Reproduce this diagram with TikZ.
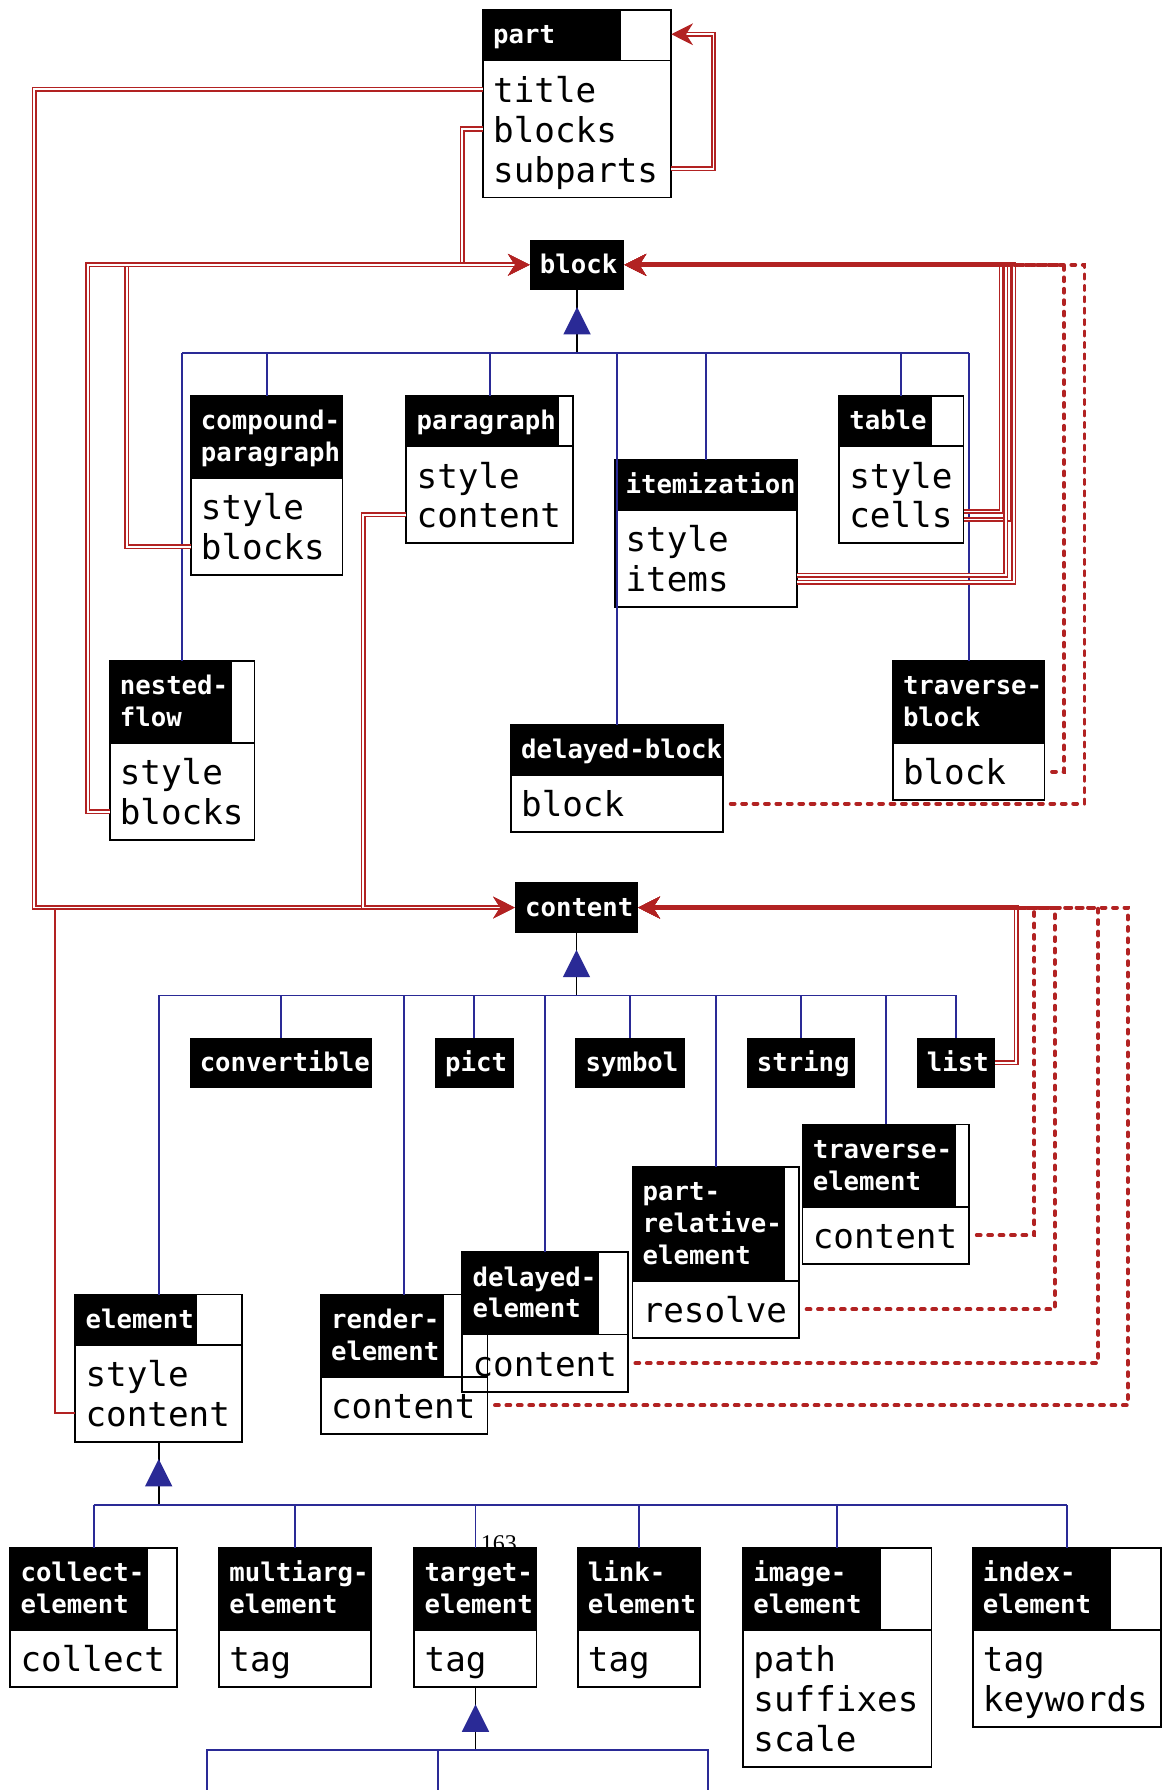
\documentclass[tikz,border=0pt]{standalone}
\usepackage{fontspec}
\usetikzlibrary{arrows.meta,calc}
\newfontfamily\monof{DejaVu Sans Mono}
\newfontfamily\pagenumfont{Liberation Serif}
\newcommand\hdrfont{\monof\bfseries\fontsize{22.5}{27}\selectfont}
\newcommand\bodyfont{\monof\fontsize{30}{35}\selectfont}
\definecolor{redc}{RGB}{178,34,34}
\definecolor{bluec}{RGB}{42,42,150}
\tikzset{
  frame/.style={draw=black, line width=1.6pt, inner sep=0pt, outer sep=0pt},
  frameline/.style={draw=black, line width=1.6pt},
  hdrtext/.style={anchor=base west, inner sep=0pt, outer sep=0pt, text=white, font=\hdrfont},
  fieldtext/.style={anchor=west, inner xsep=9pt, inner ysep=0pt, outer sep=0pt, text height=25.5pt, text depth=2.5pt, font=\bodyfont},
  blk/.style={fill=black, inner sep=0pt, outer sep=0pt},
  stem/.style={draw=black, line width=1.7pt},
  tree/.style={draw=bluec, line width=1.7pt},
  tipr/.style={-{Stealth[length=19pt,width=19pt,inset=6pt]}},
  ref/.style={draw=redc, double=white, line width=1.4pt, double distance=1.6pt, tipr},
  sref/.style={draw=redc, line width=1.8pt},
  dref/.style={draw=redc, line width=3.4pt, dash pattern=on 3.4pt off 6.6pt, dash phase=3.4pt, line cap=round, tipr},
}
% #1 name #2 x #3 y #4 w #5 black w #6 header lines #7 header list #8 body lines #9 body list
\newcommand\umlbox[9]{%
  \pgfmathsetmacro\hdrh{16+28*#6}%
  \pgfmathsetmacro\bodyh{15+35*#8}%
  \pgfmathsetmacro\toth{\hdrh+\bodyh}%
  \fill[black] (#2,#3) rectangle ++(#5,\hdrh);%
  \node[frame, minimum width=#4pt, minimum height=\toth pt, anchor=north west] (#1) at (#2,#3) {};%
  \draw[frameline] ($(#2,#3)+(0,\hdrh)$) -- ++(#4,0);%
  \begin{scope}
    \clip (#2,#3) rectangle ++({#5-1.5},\hdrh);
    \foreach \nm [count=\cnt] in {#7} {\node[hdrtext] (#1-h\cnt) at ($(#2,#3)+(9,{28*\cnt+1.5})$) {\nm};}
  \end{scope}
  \foreach \nm [count=\cnt] in {#9} {\node[fieldtext] (#1-\nm) at ($(#2,#3)+(0,{\hdrh+35*\cnt-10})$) {\nm};}
}
% #1 name #2 x #3 y #4 w #5 text
\newcommand\blackbox[5]{%
  \node[blk, minimum width=#4pt, minimum height=44pt, anchor=north west] (#1) at (#2,#3) {};%
  \begin{scope}
    \clip (#2,#3) rectangle ++({#4-1},44);
    \node[hdrtext] (#1-t) at ($(#2,#3)+(9,29.5)$) {#5};
  \end{scope}
}
% #1 parent #2 leftmost child anchor #3 rightmost child anchor #4 children
\newcommand\inherit[4]{%
  \coordinate (#1-bus) at ($(#1.south)+(0,55)$);
  \draw[stem] (#1.south) -- (#1-bus);
  \fill[bluec] ($(#1.south)+(0,15)$) -- ($(#1.south)+(12,39)$) -- ($(#1.south)+(-12,39)$) -- cycle;
  \draw[tree] (#2 |- #1-bus) -- (#3 |- #1-bus);
  \foreach \ch in {#4} {\draw[tree] (\ch.north) -- (\ch.north |- #1-bus);}
}
\begin{document}
\begin{tikzpicture}[x=1pt,y=-1pt]
\fill[white] (0,0) rectangle (1023,1568);
\useasboundingbox (0,0) rectangle (1023,1568);

% ---------- boxes ----------
\umlbox{part}{423}{9}{165}{121}{1}{part}{3}{title,blocks,subparts}
\blackbox{block}{464}{210}{83}{block}

\umlbox{compound-paragraph}{167}{347}{133}{133}{2}{compound-,paragraph}{2}{style,blocks}
\umlbox{paragraph}{356}{347}{146}{134}{1}{paragraph}{2}{style,content}
\umlbox{itemization}{539}{403}{159}{159}{1}{itemization}{2}{style,items}
\umlbox{table}{735}{347}{109}{81}{1}{table}{2}{style,cells}
\umlbox{nested-flow}{96}{579}{127}{107}{2}{nested-,flow}{2}{style,blocks}
\umlbox{delayed-block}{447.5}{635}{186}{186}{1}{delayed-block}{1}{block}
\umlbox{traverse-block}{782}{579}{133}{133}{2}{traverse-,block}{1}{block}

\blackbox{content}{451}{773}{108}{content}
\blackbox{convertible}{166}{909}{160}{convertible}
\blackbox{pict}{381}{909}{69}{pict}
\blackbox{symbol}{504}{909}{96}{symbol}
\blackbox{string}{654}{909}{95}{string}
\blackbox{list}{803}{909}{69}{list}

\umlbox{element}{66}{1134}{146}{107}{1}{element}{2}{style,content}
\umlbox{render-element}{281}{1134}{146}{108}{2}{render-,element}{1}{content}
\umlbox{delayed-element}{405}{1097}{145}{120}{2}{delayed-,element}{1}{content}
\umlbox{part-relative-element}{554}{1022}{146}{134}{3}{part-,relative-,element}{1}{resolve}
\umlbox{traverse-element}{703}{985}{146}{134}{2}{traverse-,element}{1}{content}

\node[anchor=base west, inner sep=0pt, font=\pagenumfont\fontsize{21}{21}\selectfont] (pagenum) at (421,1359) {163};

\umlbox{collect-element}{9}{1356}{146}{121}{2}{collect-,element}{1}{collect}
\umlbox{multiarg-element}{192}{1356}{133}{133}{2}{multiarg-,element}{1}{tag}
\umlbox{target-element}{363}{1356}{107}{107}{2}{target-,element}{1}{tag}
\umlbox{link-element}{506}{1356}{107}{107}{2}{link-,element}{1}{tag}
\umlbox{image-element}{651}{1356}{165}{121}{2}{image-,element}{3}{path,suffixes,scale}
\umlbox{index-element}{852}{1356}{165}{121}{2}{index-,element}{2}{tag,keywords}

% ---------- inheritance trees ----------
\inherit{block}{nested-flow.north}{traverse-block.north}{compound-paragraph,paragraph,itemization,table,nested-flow,delayed-block,traverse-block}
\inherit{content}{element.north}{list.north}{element,convertible,render-element,pict,delayed-element,symbol,part-relative-element,string,traverse-element,list}
\inherit{element}{collect-element.north}{index-element.north}{collect-element,multiarg-element,target-element,link-element,image-element,index-element}
\coordinate (tc1) at (181,1575);
\coordinate (tc2) at (384,1575);
\coordinate (tc3) at (620,1575);
\coordinate (target-element-bus) at ($(target-element.south)+(0,55)$);
\draw[stem] (target-element.south) -- (target-element-bus);
\fill[bluec] ($(target-element.south)+(0,15)$) -- ($(target-element.south)+(12,39)$) -- ($(target-element.south)+(-12,39)$) -- cycle;
\draw[tree] (tc1) -- (tc1 |- target-element-bus) -- (tc3 |- target-element-bus) -- (tc3);
\draw[tree] (tc2) -- (tc2 |- target-element-bus);

% ---------- waypoints ----------
\coordinate (xA) at (30,0);
\coordinate (xB) at (405,0);
\coordinate (xC) at (111,0);
\coordinate (xD) at (77,0);
\coordinate (xE) at (318,0);
\coordinate (xF) at (48,0);
\coordinate (xCa) at (877,0);
\coordinate (xCb) at (884,0);
\coordinate (xIa) at (881,0);
\coordinate (xIb) at (888,0);
\coordinate (xTB) at (932,0);
\coordinate (xDB) at (950,0);
\coordinate (xL) at (890,0);
\coordinate (xTE) at (906,0);
\coordinate (xPR) at (924,0);
\coordinate (xDE) at (962,0);
\coordinate (xRE) at (988,0);
\coordinate (partin) at ($(part.north east)+(0,21)$);

% ---------- references (double) ----------
\draw[ref] (part-subparts.west -| part.east) -- ++(37,0) |- (partin);
\draw[ref] (part-title.west) -| (xA |- content.west) -- (content.west);
\draw[ref] (part-blocks.west) -| (xB |- block.west) -- (block.west);
\draw[ref] (compound-paragraph-blocks.west) -| (xC |- block.west) -- (block.west);
\draw[ref] (nested-flow-blocks.west) -| (xD |- block.west) -- (block.west);
\draw[ref] (paragraph-content.west) -| (xE |- content.west) -- (content.west);
\draw[sref] (element-content.west) -| ([yshift=-2.2pt]xF |- content.west);

\draw[ref] ([yshift=3pt]table-cells.west -| table.east) -| (xCa |- block.east) -- (block.east);
\draw[ref] ([yshift=-4pt]table-cells.west -| table.east) -| (xCb |- block.east) -- (block.east);
\draw[ref] ([yshift=3pt]itemization-items.west -| itemization.east) -| (xIa |- block.east) -- (block.east);
\draw[ref] ([yshift=-3pt]itemization-items.west -| itemization.east) -| (xIb |- block.east) -- (block.east);
\draw[ref] (list.east) -| (xL |- content.east) -- (content.east);

% ---------- delayed references (dotted) ----------
\draw[dref] (traverse-block-block.west -| traverse-block.east) -| (xTB |- block.east) -- (block.east);
\draw[dref] (delayed-block-block.west -| delayed-block.east) -| (xDB |- block.east) -- (block.east);
\draw[dref] (traverse-element-content.west -| traverse-element.east) -| (xTE |- content.east) -- (content.east);
\draw[dref] (part-relative-element-resolve.west -| part-relative-element.east) -| (xPR |- content.east) -- (content.east);
\draw[dref] (delayed-element-content.west -| delayed-element.east) -| (xDE |- content.east) -- (content.east);
\draw[dref] (render-element-content.west -| render-element.east) -| (xRE |- content.east) -- (content.east);
\end{tikzpicture}
\end{document}
